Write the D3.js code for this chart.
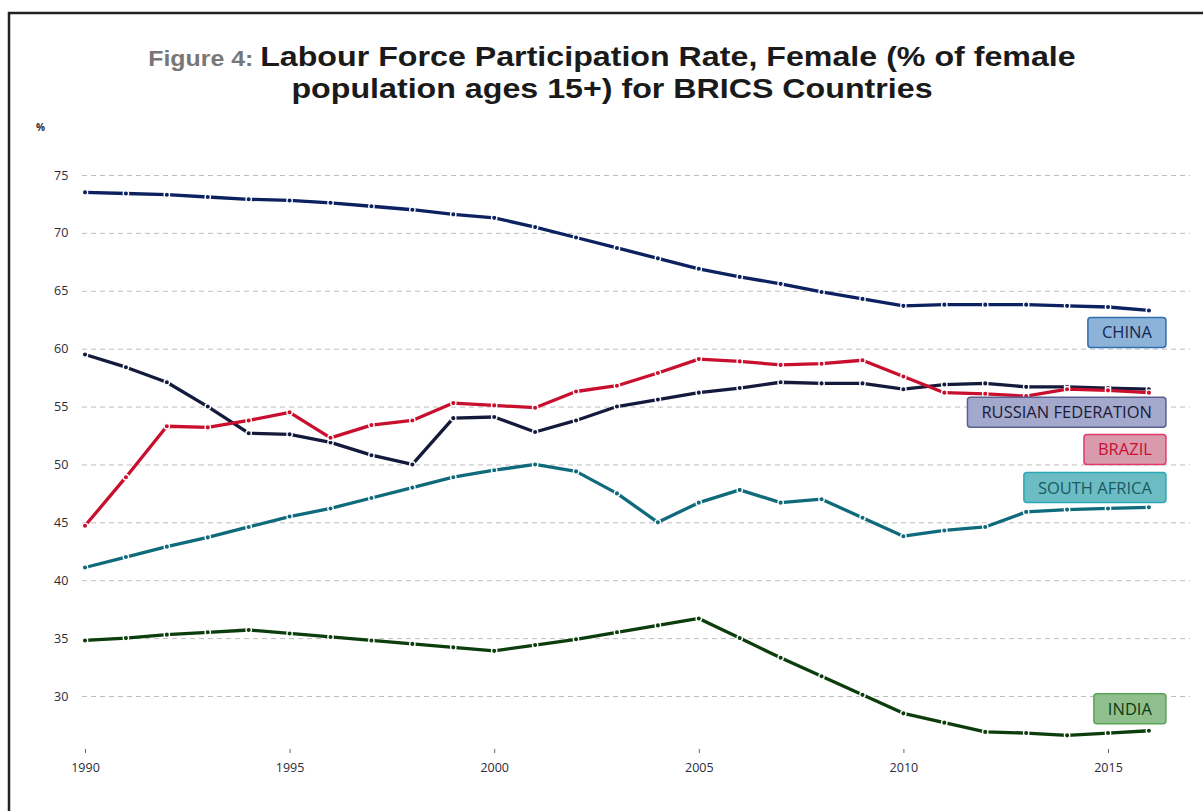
<!DOCTYPE html>
<html>
<head>
<meta charset="utf-8">
<script src="https://cdn.jsdelivr.net/npm/d3@7"></script>
<style>
  body { margin: 0; background: #fff; }
  svg { display: block; }
  .tick text { font-family: "Open Sans", sans-serif; font-size: 12.5px; fill: #2a2a3a; }
</style>
</head>
<body>
<div id="chart"></div>
<script>
// data
var years = d3.range(1990, 2017);

var china = [73.5, 73.4, 73.3, 73.1, 72.9, 72.8, 72.6, 72.3, 72.0, 71.6, 71.3, 70.5, 69.6, 68.7, 67.8,
  66.9, 66.2, 65.6, 64.9, 64.3, 63.7, 63.8, 63.8, 63.8, 63.7, 63.6, 63.3];
var russia = [59.5, 58.4, 57.1, 55.0, 52.7, 52.6, 51.9, 50.8, 50.0, 54.0, 54.1, 52.8, 53.8, 55.0, 55.6,
  56.2, 56.6, 57.1, 57.0, 57.0, 56.5, 56.9, 57.0, 56.7, 56.7, 56.6, 56.5];
var brazil = [44.7, 48.9, 53.3, 53.2, 53.8, 54.5, 52.3, 53.4, 53.8, 55.3, 55.1, 54.9, 56.3, 56.8, 57.9,
  59.1, 58.9, 58.6, 58.7, 59.0, 57.6, 56.2, 56.1, 55.9, 56.5, 56.4, 56.2];
var southAfrica = [41.1, 42.0, 42.9, 43.7, 44.6, 45.5, 46.2, 47.1, 48.0, 48.9, 49.5, 50.0, 49.4, 47.5, 45.0,
  46.7, 47.8, 46.7, 47.0, 45.4, 43.8, 44.3, 44.6, 45.9, 46.1, 46.2, 46.3];
var india = [34.8, 35.0, 35.3, 35.5, 35.7, 35.4, 35.1, 34.8, 34.5, 34.2, 33.9, 34.4, 34.9, 35.5, 36.1,
  36.7, 35.0, 33.3, 31.7, 30.1, 28.5, 27.7, 26.9, 26.8, 26.6, 26.8, 27.0];

var seriesNames = ["CHINA", "RUSSIAN FEDERATION", "BRAZIL", "SOUTH AFRICA", "INDIA"];
var seriesValues = [china, russia, brazil, southAfrica, india];
// value where each name tag sits (in %)
var labelValues = [61.4, 54.5, 51.3, 48.0, 28.9];

var yTicks = [30, 35, 40, 45, 50, 55, 60, 65, 70, 75];
var xTicks = [1990, 1995, 2000, 2005, 2010, 2015];

var lineColors = ["#0b2160", "#141a3c", "#c8102e", "#0f6b7c", "#0c3d0c"];
var boxFill = ["#8db3d8", "#a3a8cd", "#d99aae", "#6bbcc3", "#8fbf8c"];
var boxStroke = ["#2f6eb0", "#5b5f8e", "#e23a6c", "#2aa8b6", "#5aa458"];
var textColor = ["#14264f", "#1c1c35", "#c8102e", "#1b5a62", "#0f3a10"];

var svgWidth = 1203, svgHeight = 811;

var svg = d3.select("#chart").append("svg")
  .attr("width", svgWidth)
  .attr("height", svgHeight);

// frame (runs off the right and bottom of the page)
svg.append("rect")
  .attr("x", 9).attr("y", 13)
  .attr("width", svgWidth).attr("height", svgHeight)
  .attr("fill", "none").attr("stroke", "#222").attr("stroke-width", 2.5);

// title, a bit wide like the original
var title = svg.append("text")
  .attr("text-anchor", "middle")
  .attr("transform", "translate(612,0) scale(1.13,1)")
  .attr("font-family", "Liberation Sans, Arial, sans-serif")
  .attr("font-weight", "bold");
var t1 = title.append("tspan").attr("x", 0).attr("y", 66);
t1.append("tspan").attr("fill", "#777").attr("font-size", "22px").text("Figure 4: ");
t1.append("tspan").attr("fill", "#1a1a1a").attr("font-size", "28.5px")
  .text("Labour Force Participation Rate, Female (% of female");
title.append("tspan").attr("x", 0).attr("y", 98)
  .attr("fill", "#1a1a1a").attr("font-size", "28.5px")
  .text("population ages 15+) for BRICS Countries");

var x = d3.scaleLinear().domain([1990, 2015]).range([85, 1108]);
var y = d3.scaleLinear().domain([30, 75]).range([696, 175]);

var chartGroup = svg.append("g");

// grid + y labels
var yAxis = d3.axisLeft(y).tickValues(yTicks).tickSize(-(1190 - 82));
chartGroup.append("g")
  .attr("transform", "translate(82,0)")
  .call(yAxis)
  .call(g => g.select(".domain").remove())
  .call(g => g.selectAll(".tick line")
    .attr("stroke", "#bdbdbd").attr("stroke-dasharray", "5,4").attr("stroke-width", 1))
  .call(g => g.selectAll(".tick text").attr("x", -28).attr("text-anchor", "start"));

svg.append("text")
  .attr("x", 36).attr("y", 131)
  .attr("font-family", "Open Sans, sans-serif")
  .attr("font-size", "10px").attr("font-weight", "bold").attr("fill", "#2a2a3a")
  .text("%");

// x axis
var xAxis = d3.axisBottom(x).tickValues(xTicks).tickFormat(d3.format("d")).tickSize(4).tickPadding(10);
chartGroup.append("g")
  .attr("transform", "translate(0,749)")
  .call(xAxis)
  .call(g => g.select(".domain").remove())
  .call(g => g.selectAll(".tick line").attr("stroke", "#666"));

var line = d3.line()
  .x((d, i) => x(years[i]))
  .y(d => y(d));

seriesValues.forEach(function(vals, k) {
  chartGroup.append("path")
    .datum(vals)
    .attr("fill", "none")
    .attr("stroke", lineColors[k])
    .attr("stroke-width", 3.3)
    .attr("stroke-linejoin", "round")
    .attr("d", line);

  chartGroup.selectAll(".pt" + k)
    .data(vals)
    .enter()
    .append("circle")
    .attr("cx", (d, i) => x(years[i]))
    .attr("cy", d => y(d))
    .attr("r", 2.7)
    .attr("fill", lineColors[k])
    .attr("stroke", "#fff")
    .attr("stroke-width", 1.3);
});

// name tags
var tagRight = x(2016) + 17;
seriesNames.forEach(function(name, k) {
  var g = chartGroup.append("g");
  var txt = g.append("text")
    .attr("x", tagRight - 14)
    .attr("y", y(labelValues[k]) + 6)
    .attr("text-anchor", "end")
    .attr("font-family", "Open Sans, sans-serif")
    .attr("font-size", "16.5px")
    .attr("fill", textColor[k])
    .text(name);
  var w = txt.node().getComputedTextLength() + 28;
  g.insert("rect", "text")
    .attr("x", tagRight - w)
    .attr("y", y(labelValues[k]) - 15)
    .attr("width", w)
    .attr("height", 30)
    .attr("rx", 3)
    .attr("fill", boxFill[k])
    .attr("stroke", boxStroke[k])
    .attr("stroke-width", 1.5);
});
</script>
</body>
</html>
